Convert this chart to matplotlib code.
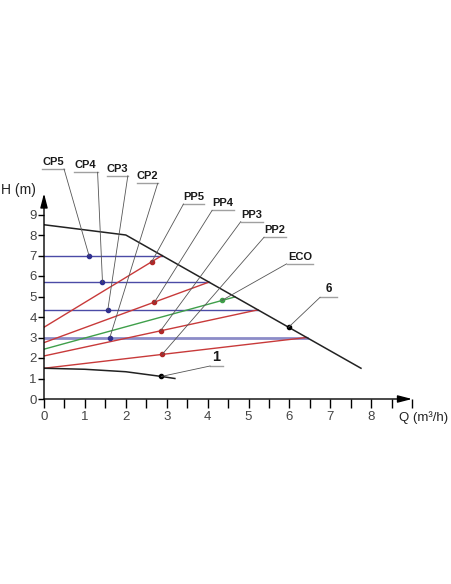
import numpy as np
import matplotlib
matplotlib.use("Agg")
import matplotlib.pyplot as plt
from matplotlib.ticker import MultipleLocator

plt.rcParams['font.family'] = ['Liberation Sans', 'DejaVu Sans']

# curva maxima e minima
q_max = [0, 2, 7.75]
h_max = [8.5, 8.0, 1.5]
q_min = [0, 1, 2, 2.87, 3.2]
h_min = [1.5, 1.45, 1.33, 1.1, 1.0]

# pressao constante (CP) - azul
cp_h = [7.0, 5.7, 4.35, 3.0]
cp_q_end = [2.885, 4.03, 5.23, 6.42]

# pressao proporcional (PP) - vermelho
pp_h0 = [3.5, 2.75, 2.1, 1.5]
pp_q_end = cp_q_end
pp_h_end = cp_h

# ECO - verde
eco_q = [0, 4.67]
eco_h = [2.43, 4.98]

# pontos marcados
cp_pts_q = [1.1, 1.43, 1.56, 1.61]
cp_pts_h = [7.0, 5.7, 4.35, 3.0]
pp_pts_q = [2.63, 2.70, 2.85, 2.89]
pp_pts_h = [6.68, 4.72, 3.33, 2.18]
eco_pt = (4.35, 4.81)
p6 = (5.98, 3.5)
p1 = (2.87, 1.1)

# rotulos: texto, x inicio sublinhado, x fim, y, lado do fio, tamanho
rotulos = [
    ("CP5", -0.05, 0.49, 11.22, "r", cp_pts_q[0], cp_pts_h[0], 8),
    ("CP4", 0.73, 1.31, 11.06, "r", cp_pts_q[1], cp_pts_h[1], 8),
    ("CP3", 1.54, 2.05, 10.89, "r", cp_pts_q[2], cp_pts_h[2], 8),
    ("CP2", 2.27, 2.78, 10.52, "r", cp_pts_q[3], cp_pts_h[3], 8),
    ("PP5", 3.41, 3.92, 9.51, "l", pp_pts_q[0], pp_pts_h[0], 8),
    ("PP4", 4.11, 4.65, 9.20, "l", pp_pts_q[1], pp_pts_h[1], 8),
    ("PP3", 4.81, 5.35, 8.65, "l", pp_pts_q[2], pp_pts_h[2], 8),
    ("PP2", 5.38, 5.92, 7.89, "l", pp_pts_q[3], pp_pts_h[3], 8),
    ("ECO", 5.93, 6.58, 6.59, "l", eco_pt[0], eco_pt[1], 8),
    ("6", 6.75, 7.16, 4.96, "l", p6[0], p6[1], 8.5),
    ("1", 4.06, 4.38, 1.61, "l", p1[0], p1[1], 10.5),
]

azul = "#4b4ba6"
vermelho = "#c83a3a"
verde = "#3f9f4a"

fig = plt.figure(figsize=(4.52, 5.84), dpi=100)
ax = fig.add_axes([44 / 452, 185 / 584, 9.05 * 40.9 / 452, 10.05 * 20.5 / 584])
ax.set_xlim(0, 9.05)
ax.set_ylim(0, 10.05)

for s in ax.spines.values():
    s.set_visible(False)

# linhas CP
for i in range(len(cp_h)):
    if i == 3:
        ax.plot([0, cp_q_end[i]], [cp_h[i], cp_h[i]], color="#8c8cc8", lw=2.0)
    else:
        ax.plot([0, cp_q_end[i]], [cp_h[i], cp_h[i]], color=azul, lw=1.0)

# linhas PP
for i in range(len(pp_h0)):
    ax.plot([0, pp_q_end[i]], [pp_h0[i], pp_h_end[i]], color=vermelho, lw=1.0)

ax.plot(eco_q, eco_h, color=verde, lw=1.0)
ax.plot(q_max, h_max, color="#222222", lw=1.1)
ax.plot(q_min, h_min, color="#222222", lw=1.1)

ax.plot(cp_pts_q, cp_pts_h, "o", color="#303090", ms=3)
ax.plot(pp_pts_q, pp_pts_h, "o", color="#b02828", ms=3)
ax.plot(*eco_pt, "o", color=verde, ms=3)
ax.plot(*p6, "o", color="k", ms=3)
ax.plot(*p1, "o", color="k", ms=3)

# rotulos com fios
for txt, x1, x2, y, lado, mq, mh, fs in rotulos:
    ax.plot([x1, x2], [y, y], color="#a0a0a0", lw=1.0, clip_on=False)
    xa = x2 if lado == "r" else x1
    ax.plot([xa, mq], [y, mh], color="#555555", lw=0.6, clip_on=False)
    ax.annotate(txt, ((x1 + x2) / 2, y), xytext=(0, 1.5), textcoords="offset points",
                ha="center", va="bottom", fontsize=fs, fontweight="bold",
                color="#1a1a1a", annotation_clip=False)

# eixos com setas
seta = dict(arrowstyle="-|>,head_length=0.85,head_width=0.22", color="k",
            lw=1.0, shrinkA=0, shrinkB=0)
ax.annotate("", xy=(9.0, 0), xytext=(0, 0), arrowprops=seta, annotation_clip=False)
ax.annotate("", xy=(0, 10.03), xytext=(0, 0), arrowprops=seta, annotation_clip=False)

ax.xaxis.set_major_locator(MultipleLocator(1))
ax.xaxis.set_minor_locator(MultipleLocator(0.5))
ax.set_xticks(range(0, 9))
ax.set_yticks(range(0, 10))
ax.tick_params(axis="x", which="both", direction="out", length=6.5, width=1.0,
               pad=2.5, labelsize=9.5, labelcolor="#444444")
ax.tick_params(axis="y", direction="out", length=4.3, width=1.0, pad=1,
               labelsize=9.5, labelcolor="#444444")
ax.tick_params(axis="x", which="minor", length=6.5)

fig.text(1 / 452, 1 - 190 / 584, "H (m)", fontsize=10, color="#222222", va="center", ha="left")
fig.text(399 / 452, 1 - 418 / 584, "Q (m³/h)", fontsize=9.5, color="#222222", va="center", ha="left")

fig.savefig("out.png", dpi=100)
